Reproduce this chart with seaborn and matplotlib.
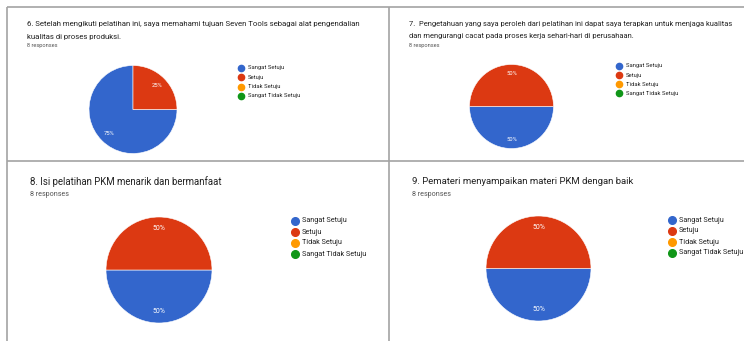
import matplotlib
matplotlib.use("Agg")
import matplotlib.pyplot as plt
import seaborn as sns

sns.set_theme(style="white")
plt.rcParams['font.family'] = ['Roboto', 'DejaVu Sans']

categories = ["Sangat Setuju", "Setuju", "Tidak Setuju", "Sangat Tidak Setuju"]
q6_counts = [6, 2, 0, 0]
q7_counts = [4, 4, 0, 0]
q8_counts = [4, 4, 0, 0]
q9_counts = [4, 4, 0, 0]
titles = [
    ["6. Setelah mengikuti pelatihan ini, saya memahami tujuan Seven Tools sebagai alat pengendalian",
     "kualitas di proses produksi."],
    ["7.  Pengetahuan yang saya peroleh dari pelatihan ini dapat saya terapkan untuk menjaga kualitas",
     "dan mengurangi cacat pada proses kerja sehari-hari di perusahaan."],
    ["8. Isi pelatihan PKM menarik dan bermanfaat"],
    ["9. Pemateri menyampaikan materi PKM dengan baik"],
]
responses_label = "8 responses"

colors = ["#3366CC", "#DC3912", "#FF9900", "#109618"]
sns.set_palette(colors)

W, H = 744, 341
fig = plt.figure(figsize=(W / 100, H / 100), dpi=100)
fig.patch.set_facecolor("white")

# overlay axes in pixel coordinates
ov = fig.add_axes([0, 0, 1, 1])
ov.set_xlim(0, W)
ov.set_ylim(H, 0)
ov.axis("off")

border = "#a3a3a3"
ov.plot([7, 7], [7, H], color=border, lw=1.2, solid_capstyle="butt")
ov.plot([7, W], [7, 7], color=border, lw=1.2, solid_capstyle="butt")
ov.plot([389, 389], [7, H], color=border, lw=1.2, solid_capstyle="butt")
ov.plot([7, W], [160.5, 160.5], color=border, lw=1.2, solid_capstyle="butt")

panels = [
    dict(data=q6_counts, title=titles[0], tx=27, ty=24, tdy=12.5, tfs=5.55, ry=45.5, rfs=4.1,
         cx=133, cy=109.5, r=44, lx=241, ly=68, ldy=9.3, lfs=4.2, ms=4.5, pfs=4.2),
    dict(data=q7_counts, title=titles[1], tx=409, ty=24, tdy=12, tfs=5.45, ry=45.5, rfs=4.1,
         cx=511.5, cy=106.5, r=42, lx=619, ly=66, ldy=9.1, lfs=4.2, ms=4.5, pfs=4.2),
    dict(data=q8_counts, title=titles[2], tx=30, ty=182, tdy=0, tfs=6.9, ry=194, rfs=5.1,
         cx=159, cy=270, r=53, lx=295, ly=221, ldy=11, lfs=5.2, ms=5.5, pfs=5.0),
    dict(data=q9_counts, title=titles[3], tx=412, ty=182, tdy=0, tfs=6.8, ry=194, rfs=5.1,
         cx=538.5, cy=268.5, r=52.5, lx=672, ly=220, ldy=11, lfs=5.2, ms=5.5, pfs=5.0),
]

for p in panels:
    for k, line in enumerate(p["title"]):
        ov.text(p["tx"], p["ty"] + k * p["tdy"], line, fontsize=p["tfs"], color="#212121",
                ha="left", va="center")
    ov.text(p["tx"], p["ry"], responses_label, fontsize=p["rfs"], color="#555555",
            ha="left", va="center")
    cx, cy, r = p["cx"], p["cy"], p["r"]
    ax = fig.add_axes([(cx - r) / W, 1 - (cy + r) / H, 2 * r / W, 2 * r / H])
    wedges, texts, autotexts = ax.pie(
        p["data"], colors=colors, startangle=0, counterclock=False,
        autopct=lambda v: f"{v:.0f}%" if v > 0 else "",
        pctdistance=0.78, radius=1,
        wedgeprops=dict(edgecolor="white", linewidth=0.4),
        textprops=dict(color="white", fontsize=p["pfs"]),
    )
    for w, v in zip(wedges, p["data"]):
        if v == 0:
            w.set_visible(False)
    ax.set_xlim(-1, 1)
    ax.set_ylim(-1, 1)
    ax.axis("off")
    for i, (cat, col) in enumerate(zip(categories, colors)):
        y = p["ly"] + i * p["ldy"]
        ov.plot([p["lx"]], [y], marker="o", color=col, markersize=p["ms"], linestyle="none")
        ov.text(p["lx"] + 7, y, cat, fontsize=p["lfs"], color="#222222", ha="left", va="center")

fig.savefig("out.png", dpi=100, facecolor="white")
